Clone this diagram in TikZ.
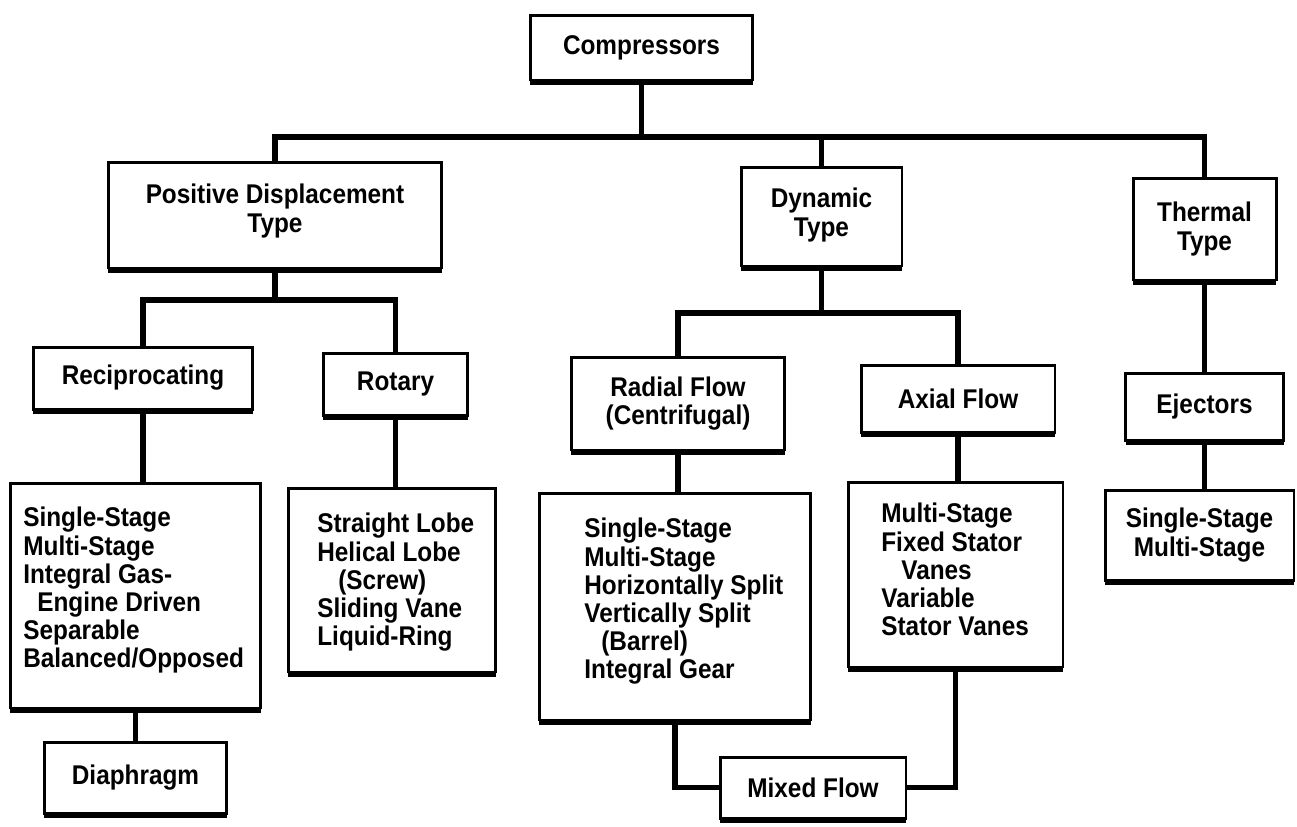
\documentclass[tikz,border=0pt]{standalone}
\usepackage{fontspec}
\setmainfont{Liberation Sans}[FakeStretch=0.9]
\usetikzlibrary{shadows}
\tikzset{
  type box/.style={
    rectangle, draw=black, line width=1.7pt, fill=white,
    inner sep=0pt, align=center,
    font=\bfseries\fontsize{15.4}{16.4}\selectfont,
    drop shadow={shadow xshift=0pt, shadow yshift=-0.1cm, fill=black, opacity=1}
  },
  list text/.style={
    anchor=north west, inner sep=0pt, align=left,
    font=\bfseries\fontsize{15.4}{16}\selectfont
  },
  tree link/.style={line width=3pt}
}

\begin{document}
\begin{tikzpicture}[x=0.02cm, y=-0.02cm]
    \useasboundingbox (0,0) rectangle (1297,826);
    \node[type box, minimum width=4.46cm, minimum height=1.30cm] (comp) at (641.5,47.5) {Compressors};
    \node[type box, minimum width=6.68cm, minimum height=2.12cm] (pd) at (275,215) {Positive Displacement\\Type\\[-8.4pt]};
    \node[type box, minimum width=3.22cm, minimum height=1.98cm] (dyn) at (821.5,216.5) {Dynamic\\Type\\[-11.8pt]};
    \node[type box, minimum width=2.86cm, minimum height=2.04cm] (therm) at (1204.5,229) {Thermal\\Type};
    \node[type box, minimum width=4.40cm, minimum height=1.24cm] (recip) at (143,378) {Reciprocating};
    \node[type box, minimum width=2.90cm, minimum height=1.24cm] (rotary) at (395.5,384) {Rotary};
    \node[type box, minimum width=4.28cm, minimum height=1.86cm] (radial) at (678,403.5) {Radial Flow\\(Centrifugal)};
    \node[type box, minimum width=3.88cm, minimum height=1.34cm] (axial) at (958,398.5) {Axial Flow};
    \node[type box, minimum width=3.16cm, minimum height=1.34cm] (eject) at (1204.5,406.5) {Ejectors};
    \node[type box, minimum width=5.02cm, minimum height=4.50cm] (reciplist) at (135.5,595.5) {};
    \node[type box, minimum width=4.16cm, minimum height=3.68cm] (rotlist) at (392,580) {};
    \node[type box, minimum width=5.44cm, minimum height=4.54cm] (radlist) at (675,606.5) {};
    \node[type box, minimum width=4.30cm, minimum height=3.70cm] (axlist) at (955.5,574.5) {};
    \node[type box, minimum width=3.78cm, minimum height=1.80cm] (ejlist) at (1199.5,535) {Single-Stage\\Multi-Stage};
    \node[type box, minimum width=3.66cm, minimum height=1.42cm] (diaph) at (135.5,777.5) {Diaphragm};
    \node[type box, minimum width=3.72cm, minimum height=1.22cm] (mixed) at (813,787.5) {Mixed Flow};
    \node[list text] (reciptext) at (23,507) {Single-Stage\\Multi-Stage\\Integral Gas-\\\hspace*{0.28cm}Engine Driven\\Separable\\Balanced/Opposed};
    \node[list text] (rottext) at (317,513) {Straight Lobe\\Helical Lobe\\\hspace*{0.42cm}(Screw)\\Sliding Vane\\Liquid-Ring};
    \node[list text] (radtext) at (584,518) {Single-Stage\\Multi-Stage\\Horizontally Split\\Vertically Split\\\hspace*{0.34cm}(Barrel)\\Integral Gear};
    \node[list text] (axtext) at (881,503) {Multi-Stage\\Fixed Stator\\\hspace*{0.4cm}Vanes\\Variable\\Stator Vanes};
    \coordinate (topbar) at (641.5,137);
    \coordinate (pdbar) at (275,300);
    \coordinate (dynbar) at (821.5,313);
    \draw[tree link] (comp) -- (topbar);
    \draw[tree link] (pd) |- (topbar) -| (therm);
    \draw[tree link] (dyn) -- (dyn |- topbar);
    \draw[tree link] (pd) -- (pdbar);
    \draw[tree link] (recip) |- (pdbar) -| (rotary);
    \draw[tree link] (dyn) -- (dynbar);
    \draw[tree link] (radial) |- (dynbar) -| (axial);
    \draw[tree link] (therm) -- (eject);
    \draw[tree link] (recip) -- (recip |- reciplist.north);
    \draw[tree link] (rotary) -- (rotary |- rotlist.north);
    \draw[tree link] (radial) -- (radial |- radlist.north);
    \draw[tree link] (axial) -- (axial |- axlist.north);
    \draw[tree link] (eject) -- (eject |- ejlist.north);
    \draw[tree link] (reciplist) -- (diaph);
    \draw[tree link] (mixed) -| (radlist);
    \draw[tree link] (mixed) -| (axlist);
\end{tikzpicture}
\end{document}
